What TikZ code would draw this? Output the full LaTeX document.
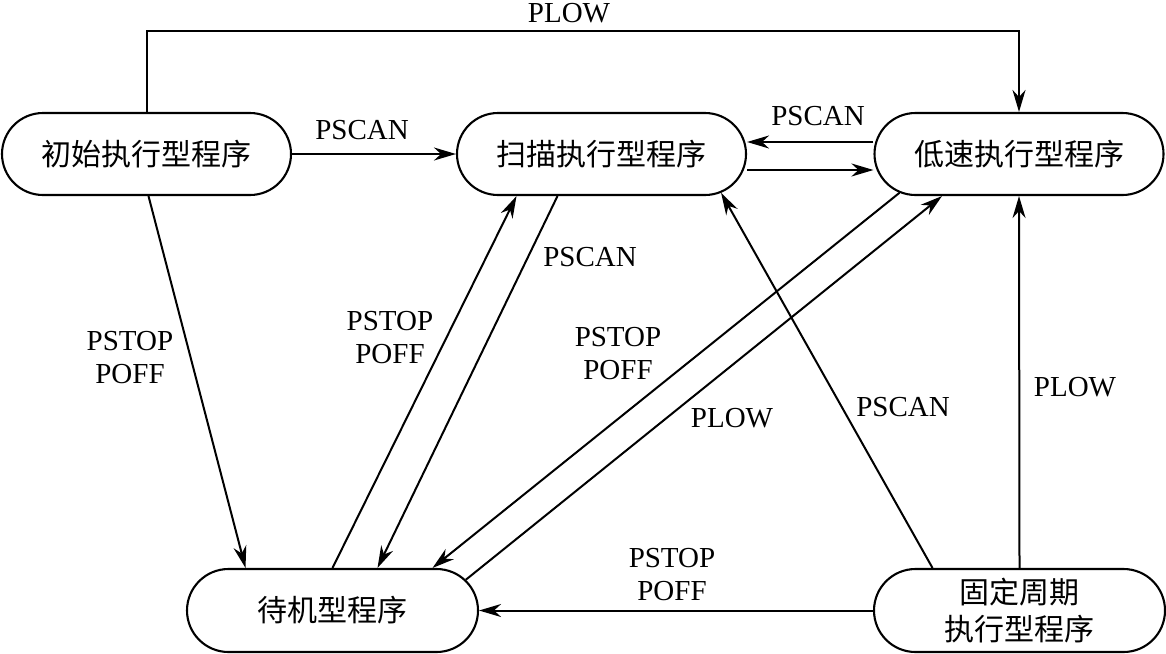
\documentclass[tikz,border=0pt]{standalone}
\usepackage{fontspec}
\setmainfont{Liberation Serif}
\newfontfamily\cjk{Noto Sans CJK SC}
\usetikzlibrary{shapes.misc,arrows.meta}
\tikzset{
  prog/.style={draw, line width=2.1pt, rounded rectangle, minimum width=289pt, minimum height=82pt, inner sep=0pt, font=\cjk\fontsize{30}{37}\selectfont, align=center},
  arr/.style={line width=2pt, -{Stealth[length=22pt,width=13pt,inset=7pt]}},
  lbl/.style={font=\fontsize{29}{33}\selectfont, align=center, inner sep=0pt}
}
\begin{document}
\begin{tikzpicture}[x=1pt,y=-1pt]
\useasboundingbox (0,0) rectangle (1166,653);
\node[prog] (init) at (146.5,154) {初始执行型程序};
\node[prog] (scan) at (601.5,154) {扫描执行型程序};
\node[prog] (low) at (1019,154) {低速执行型程序};
\node[prog, minimum width=291pt, minimum height=83pt] (wait) at (332.5,610.5) {待机型程序};
\node[prog, minimum width=291pt, minimum height=83pt] (fix) at (1019.5,610.5) {固定周期\\执行型程序};

% top PLOW
\draw[arr] (init.north) -- ++(0,-81) -| (low.north);
\node[lbl] (l1) at (569,13) {PLOW};
% init -> scan
\draw[arr] (init.east) -- (scan.west);
\node[lbl] (l2) at (362,130) {PSCAN};
% low <-> scan
\draw[arr] ([yshift=12pt]low.west) -- ([yshift=12pt]scan.east);
\draw[arr] ([yshift=-16pt]scan.east) -- ([yshift=-16pt]low.west);
\node[lbl] (l3) at (818,116) {PSCAN};
% init -> wait
\draw[arr] ([xshift=2pt]init.south) -- ([xshift=-87pt]wait.north);
\node[lbl] (l4) at (130,358) {PSTOP\\POFF};
% wait -> scan
\draw[arr] (wait.north) -- ([xshift=-85pt]scan.south);
\node[lbl] (l5) at (390,338) {PSTOP\\POFF};
% scan -> wait
\draw[arr] ([xshift=-44pt]scan.south) -- ([xshift=45pt]wait.north);
\node[lbl] (l6) at (590,257) {PSCAN};
% low -> wait
\draw[arr] (low.198) -- ([xshift=100pt]wait.north);
\node[lbl] (l7) at (618,354) {PSTOP\\POFF};
% wait -> low
\draw[arr] (wait.13) -- ([xshift=-77pt]low.south);
\node[lbl] (l8) at (732,418) {PLOW};
% fix -> scan
\draw[arr] ([xshift=-87pt]fix.north) -- (scan.-18);
\node[lbl] (l9) at (903,407) {PSCAN};
% fix -> low
\draw[arr] (fix.north) -- (low.south);
\node[lbl] (l10) at (1075,387) {PLOW};
% fix -> wait
\draw[arr] (fix.west) -- (wait.east);
\node[lbl] (l11) at (672,575) {PSTOP\\POFF};
\end{tikzpicture}
\end{document}
